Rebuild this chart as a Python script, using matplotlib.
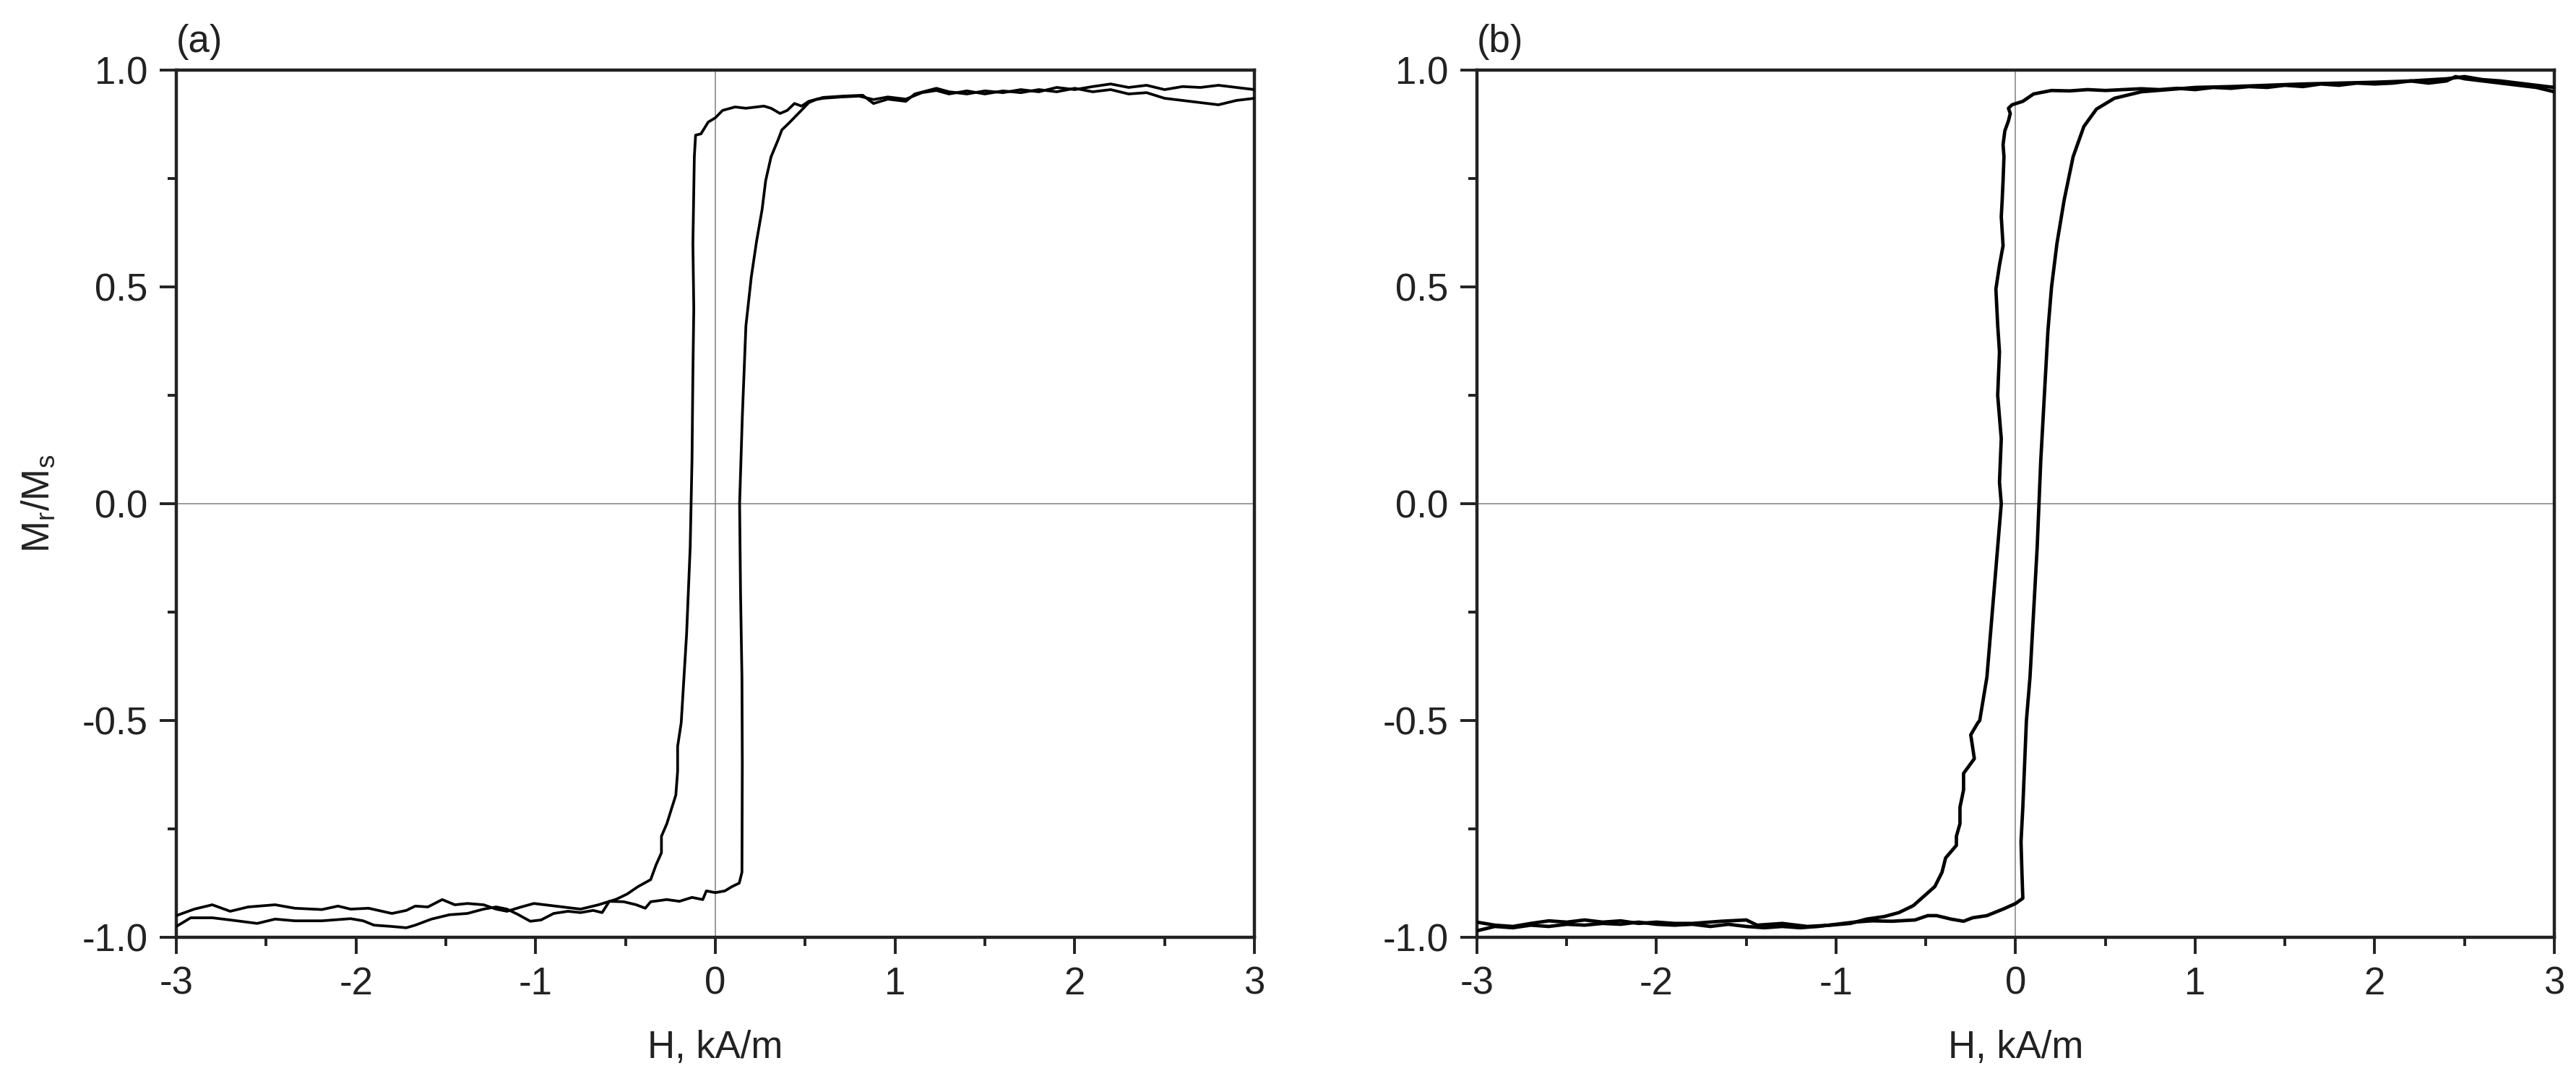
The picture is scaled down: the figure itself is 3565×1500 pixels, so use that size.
import matplotlib
matplotlib.use("Agg")
import matplotlib.pyplot as plt
from matplotlib.ticker import MultipleLocator

plt.rcParams['font.family'] = ['Liberation Sans', 'DejaVu Sans']
plt.rcParams['mathtext.fontset'] = 'custom'
plt.rcParams['mathtext.rm'] = 'Liberation Sans'
plt.rcParams['mathtext.it'] = 'Liberation Sans:italic'
plt.rcParams['axes.unicode_minus'] = False

# ---------------- Panel (a) ----------------
a_desc_H = [3.0, 2.9, 2.8, 2.7, 2.6, 2.5, 2.4, 2.3, 2.2, 2.1, 2.0, 1.9, 1.8, 1.7, 1.6, 1.5,
            1.4, 1.3, 1.23, 1.11, 1.06, 0.96, 0.88, 0.82, 0.71, 0.60, 0.52, 0.48, 0.44, 0.40,
            0.36, 0.31, 0.27, 0.17, 0.11, 0.04, 0.0, -0.04, -0.08, -0.11, -0.117, -0.125,
            -0.12, -0.125, -0.13, -0.14, -0.16, -0.19, -0.21, -0.21, -0.22, -0.27, -0.30,
            -0.30, -0.33, -0.36, -0.43, -0.49, -0.55, -0.65, -0.75, -0.85, -0.95, -1.01,
            -1.08, -1.16, -1.22, -1.29, -1.38, -1.45, -1.52, -1.60, -1.67, -1.72, -1.80,
            -1.93, -2.03, -2.10, -2.19, -2.34, -2.45, -2.60, -2.70, -2.80, -2.90, -3.0]
a_desc_M = [0.955, 0.96, 0.965, 0.96, 0.962, 0.955, 0.965, 0.96, 0.968, 0.962, 0.955, 0.96,
            0.95, 0.955, 0.948, 0.952, 0.945, 0.95, 0.958, 0.945, 0.928, 0.933, 0.923, 0.942,
            0.94, 0.937, 0.928, 0.917, 0.923, 0.907, 0.90, 0.912, 0.917, 0.912, 0.915, 0.907,
            0.89, 0.88, 0.853, 0.85, 0.80, 0.60, 0.45, 0.30, 0.10, -0.10, -0.30, -0.505,
            -0.56, -0.617, -0.672, -0.738, -0.767, -0.805, -0.833, -0.867, -0.883, -0.90,
            -0.912, -0.925, -0.935, -0.93, -0.925, -0.922, -0.93, -0.94, -0.935, -0.925,
            -0.922, -0.925, -0.913, -0.93, -0.928, -0.938, -0.945, -0.933, -0.935, -0.928,
            -0.936, -0.933, -0.925, -0.93, -0.94, -0.925, -0.935, -0.95]

a_asc_H = [-3.0, -2.92, -2.80, -2.70, -2.55, -2.45, -2.34, -2.19, -2.03, -1.96, -1.90, -1.80,
           -1.72, -1.67, -1.58, -1.48, -1.38, -1.29, -1.22, -1.16, -1.10, -1.03, -0.97, -0.90,
           -0.82, -0.75, -0.68, -0.63, -0.59, -0.51, -0.44, -0.39, -0.36, -0.27, -0.20, -0.13,
           -0.07, -0.05, 0.0, 0.053, 0.093, 0.133, 0.148, 0.15, 0.148, 0.14, 0.135, 0.15,
           0.17, 0.20, 0.23, 0.26, 0.28, 0.31, 0.35, 0.37, 0.41, 0.45, 0.49, 0.52, 0.56, 0.60,
           0.70, 0.80, 0.88, 0.96, 1.06, 1.15, 1.23, 1.30, 1.40, 1.50, 1.60, 1.70, 1.80, 1.90,
           2.0, 2.1, 2.2, 2.3, 2.4, 2.5, 2.6, 2.7, 2.8, 2.9, 3.0]
a_asc_M = [-0.975, -0.955, -0.955, -0.96, -0.968, -0.958, -0.962, -0.962, -0.957, -0.962,
           -0.972, -0.975, -0.978, -0.972, -0.958, -0.948, -0.945, -0.935, -0.93, -0.935,
           -0.947, -0.963, -0.96, -0.945, -0.94, -0.943, -0.938, -0.943, -0.917, -0.918,
           -0.925, -0.933, -0.918, -0.913, -0.917, -0.908, -0.913, -0.893, -0.897, -0.893,
           -0.883, -0.875, -0.85, -0.60, -0.40, -0.20, 0.0, 0.20, 0.41, 0.523, 0.607, 0.678,
           0.745, 0.80, 0.84, 0.862, 0.878, 0.895, 0.912, 0.925, 0.932, 0.935, 0.938, 0.94,
           0.932, 0.938, 0.933, 0.948, 0.953, 0.945, 0.952, 0.945, 0.952, 0.948, 0.955, 0.95,
           0.958, 0.95, 0.955, 0.945, 0.948, 0.935, 0.93, 0.925, 0.92, 0.93, 0.935]

# ---------------- Panel (b) ----------------
b_desc_H = [3.0, 2.9, 2.8, 2.7, 2.6, 2.5, 2.45, 2.4, 2.3, 2.2, 2.1, 2.0, 1.9, 1.8, 1.7, 1.6,
            1.5, 1.4, 1.3, 1.2, 1.1, 1.0, 0.9, 0.8, 0.7, 0.6, 0.5, 0.4, 0.3, 0.2, 0.1, 0.04,
            -0.02, -0.04, -0.03, -0.04, -0.06, -0.07, -0.065, -0.07, -0.075, -0.08, -0.07,
            -0.09, -0.11, -0.10, -0.09, -0.10, -0.08, -0.09, -0.08, -0.10, -0.12, -0.14, -0.16,
            -0.20, -0.21, -0.25, -0.23, -0.29, -0.29, -0.31, -0.31, -0.33, -0.33, -0.39, -0.41,
            -0.45, -0.51, -0.57, -0.65, -0.73, -0.83, -0.92, -1.03, -1.16, -1.30, -1.44, -1.50,
            -1.64, -1.80, -1.90, -2.0, -2.1, -2.2, -2.3, -2.4, -2.5, -2.6, -2.7, -2.8, -2.9, -3.0]
b_desc_M = [0.95, 0.96, 0.965, 0.97, 0.975, 0.98, 0.985, 0.975, 0.97, 0.975, 0.97, 0.968,
            0.97, 0.965, 0.968, 0.962, 0.965, 0.96, 0.962, 0.958, 0.96, 0.955, 0.958, 0.955,
            0.957, 0.955, 0.953, 0.955, 0.952, 0.953, 0.945, 0.928, 0.92, 0.912, 0.90, 0.883,
            0.86, 0.828, 0.80, 0.745, 0.70, 0.662, 0.595, 0.55, 0.495, 0.412, 0.35, 0.25, 0.15,
            0.05, 0.0, -0.10, -0.20, -0.30, -0.40, -0.50, -0.505, -0.533, -0.588, -0.622, -0.66,
            -0.70, -0.738, -0.767, -0.788, -0.817, -0.85, -0.883, -0.905, -0.927, -0.943,
            -0.952, -0.958, -0.968, -0.972, -0.975, -0.968, -0.972, -0.96, -0.963, -0.968,
            -0.968, -0.965, -0.968, -0.962, -0.965, -0.96, -0.965, -0.962, -0.968, -0.975,
            -0.972, -0.965]

b_asc_H = [-3.0, -2.9, -2.8, -2.7, -2.6, -2.5, -2.4, -2.3, -2.2, -2.1, -2.0, -1.9, -1.8, -1.7,
           -1.6, -1.5, -1.4, -1.3, -1.2, -1.1, -1.0, -0.9, -0.8, -0.69, -0.56, -0.49, -0.44,
           -0.36, -0.29, -0.24, -0.16, -0.07, 0.0, 0.04, 0.035, 0.03, 0.04, 0.05, 0.06, 0.08,
           0.10, 0.12, 0.13, 0.14, 0.16, 0.18, 0.20, 0.23, 0.27, 0.32, 0.38, 0.45, 0.55, 0.70,
           0.85, 1.0, 1.2, 1.4, 1.6, 1.8, 2.0, 2.2, 2.4, 2.5, 2.6, 2.7, 2.8, 2.9, 3.0]
b_asc_M = [-0.985, -0.975, -0.978, -0.972, -0.975, -0.97, -0.972, -0.968, -0.97, -0.965,
           -0.97, -0.972, -0.97, -0.975, -0.97, -0.975, -0.978, -0.975, -0.978, -0.975, -0.97,
           -0.965, -0.962, -0.963, -0.96, -0.95, -0.95, -0.958, -0.963, -0.955, -0.95, -0.935,
           -0.922, -0.91, -0.85, -0.78, -0.70, -0.60, -0.50, -0.40, -0.25, -0.10, 0.0, 0.10,
           0.25, 0.40, 0.50, 0.60, 0.70, 0.80, 0.87, 0.91, 0.935, 0.95, 0.955, 0.96, 0.962,
           0.965, 0.968, 0.97, 0.972, 0.975, 0.98, 0.985, 0.978, 0.975, 0.97, 0.965, 0.96]

x_ticks = [-3, -2, -1, 0, 1, 2, 3]
y_ticks = [-1.0, -0.5, 0.0, 0.5, 1.0]
panel_labels = ['(a)', '(b)']
x_label = 'H, kA/m'
y_label = r'M$_\mathregular{r}$/M$_\mathregular{s}$'

fig = plt.figure(figsize=(35.66, 15), dpi=100)
ax_a = fig.add_axes([244 / 3566, 203 / 1500, 1492 / 3566, 1200 / 1500])
ax_b = fig.add_axes([2044 / 3566, 203 / 1500, 1491 / 3566, 1200 / 1500])

FS = 38
for ax, lab, lw, branches in [
        (ax_a, panel_labels[0], 2.7, [(a_desc_H, a_desc_M), (a_asc_H, a_asc_M)]),
        (ax_b, panel_labels[1], 3.4, [(b_desc_H, b_desc_M), (b_asc_H, b_asc_M)])]:
    ax.axhline(0, color='#808080', lw=1.1, zorder=1)
    ax.axvline(0, color='#808080', lw=1.1, zorder=1)
    for H, M in branches:
        ax.plot(H, M, color='black', lw=lw, zorder=3, solid_joinstyle='round')
    ax.set_xlim(-3, 3)
    ax.set_ylim(-1, 1)
    ax.set_xticks(x_ticks)
    ax.set_xticklabels([str(t) for t in x_ticks])
    ax.set_yticks(y_ticks)
    ax.set_yticklabels(['%.1f' % t for t in y_ticks])
    ax.xaxis.set_minor_locator(MultipleLocator(0.5))
    ax.yaxis.set_minor_locator(MultipleLocator(0.25))
    ax.tick_params(which='major', direction='out', length=16.5, width=2.8,
                   labelsize=FS, pad=12, color='#222222', labelcolor='#222222')
    ax.tick_params(which='minor', direction='out', length=8.5, width=2.8, color='#222222')
    ax.tick_params(top=False, right=False, which='both')
    for sp in ax.spines.values():
        sp.set_linewidth(3.2)
        sp.set_color('#222222')
    ax.set_xlabel(x_label, fontsize=FS, color='#222222', va='center')
    ax.xaxis.set_label_coords(0.5, -0.1275)
    ax.text(0.0, 1.012, lab, transform=ax.transAxes, ha='left', va='bottom',
            fontsize=FS, color='#222222')

ax_a.set_ylabel(y_label, fontsize=FS, color='#222222', va='center')
ax_a.yaxis.set_label_coords(-0.128, 0.5)

fig.savefig('out.png', dpi=100, facecolor='white')
